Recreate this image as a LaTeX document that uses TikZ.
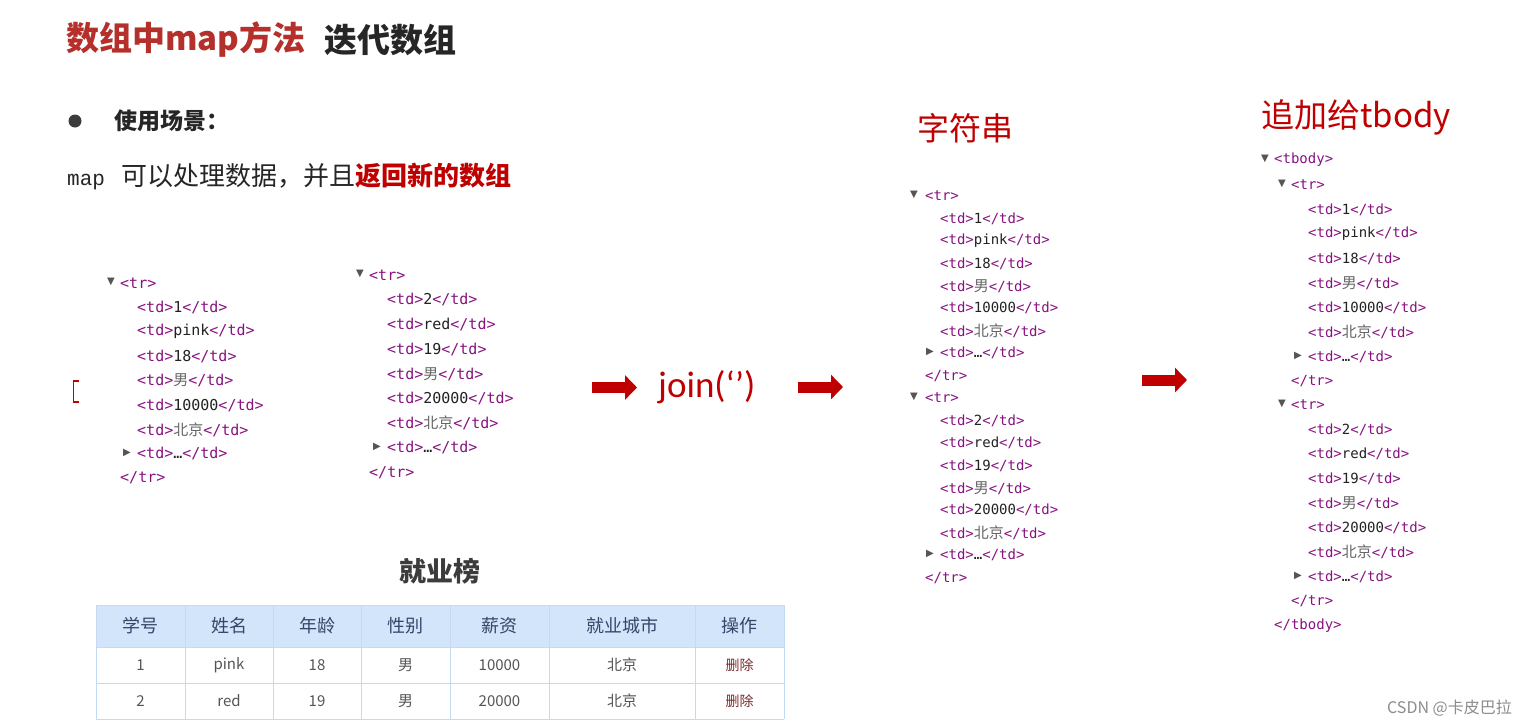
\documentclass[tikz,border=0pt]{standalone}
\usepackage{fontspec}
\usetikzlibrary{arrows.meta}
\newfontfamily\cjk{Noto Sans CJK SC}
\newfontfamily\codef{DejaVu Sans Mono}
\newfontfamily\symf{DejaVu Sans}
\newfontfamily\calf{Carlito}
\newfontfamily\monof{Liberation Mono}
\definecolor{tagc}{HTML}{881280}
\definecolor{txtc}{HTML}{222222}
\definecolor{zhc}{HTML}{666666}
\definecolor{redt}{HTML}{C00000}
\definecolor{titred}{HTML}{B5302A}
\definecolor{trig}{HTML}{555555}
\definecolor{hdrfill}{HTML}{D3E5FA}
\definecolor{gridc}{HTML}{C3DAF2}
\definecolor{hdrtxt}{HTML}{34466A}
\definecolor{bodytxt}{HTML}{555555}
\definecolor{delc}{HTML}{7B2B2B}
\definecolor{darkt}{HTML}{262626}
\newcommand\tagx[1]{\textcolor{tagc}{#1}}
\newcommand\tdx[1]{\tagx{<td>}#1\tagx{</td>}}
\newcommand\zhx[1]{{\cjk\color{zhc}\fontsize{15}{15}\selectfont #1}}
\tikzset{
  code/.style={anchor=west, inner sep=0pt, text=txtc, font=\codef\fontsize{15}{15}\selectfont},
  tri/.style={anchor=center, inner sep=0pt, text=trig, font=\symf\fontsize{10}{10}\selectfont},
  bigarrow/.style={draw=redt, line width=11pt, -{Triangle[length=12pt,width=24pt]}},
  thdr/.style={inner sep=0pt, text=hdrtxt, font=\cjk\fontsize{18}{18}\selectfont},
  tcell/.style={inner sep=0pt, text=bodytxt, font=\cjk\fontsize{15}{15}\selectfont},
  tdel/.style={inner sep=0pt, text=delc, font=\cjk\fontsize{14}{14}\selectfont},
  lbl/.style={anchor=west, inner sep=0pt, text=redt, font=\cjk\fontsize{32}{32}\selectfont}
}
% #1 name, #2 x of triangle, #3 x of <tr>, #4 x of td, #5 y of <tr>, #6 step, #7 values
\newcommand\trblock[7]{%
  \node[tri] (#1v) at (#2,#5-1) {▼};
  \node[code] (#1tr) at (#3,#5) {\tagx{<tr>}};
  \foreach \v [count=\i] in {#7} \node[code] (#1d\i) at (#4,#5+#6*\i) {\tdx{\v}};
  \node[tri] (#1p) at (#4-10,#5+7*#6-1) {▶};
  \node[code] (#1dots) at (#4,#5+7*#6) {\tdx{…}};
  \node[code] (#1end) at (#3,#5+8*#6) {\tagx{</tr>}};
}
\begin{document}
\begin{tikzpicture}[x=1pt,y=-1pt]
\useasboundingbox (0,0) rectangle (1527,726);
\fill[white] (0,0) rectangle (1527,726);

% title
\node[anchor=west, inner sep=0pt, font=\cjk\bfseries\fontsize{33}{33}\selectfont, text=titred] (title1) at (66,40) {数组中map方法};
\node[anchor=west, inner sep=0pt, font=\cjk\bfseries\fontsize{33}{33}\selectfont, text=darkt] (title2) at (324,40) {迭代数组};

% bullet
\node[circle, fill=darkt!90, inner sep=0pt, minimum size=13pt] (bul) at (75,121) {};
\node[anchor=west, inner sep=0pt, font=\cjk\bfseries\fontsize{23}{23}\selectfont, text=darkt] (use) at (114,121) {使用场景：};
\node[anchor=west, inner sep=0pt, font=\cjk\fontsize{26}{26}\selectfont, text=darkt] (desc) at (67,176)
  {{\monof\fontsize{21}{21}\selectfont map}\hspace{16pt}可以处理数据，并且{\bfseries\color{redt}返回新的数组}};

% red bracket
\draw[redt, line width=1.8pt] (78.5,381) -- (73.5,381) -- (73.5,402) -- (78.5,402);

% code blocks 1 and 2
\trblock{b1}{111}{120}{137}{283}{24.4}{1,pink,18,\zhx{男},10000,\zhx{北京}}
\trblock{b2}{360}{369}{387}{275}{24.7}{2,red,19,\zhx{男},20000,\zhx{北京}}

% arrows and join
\coordinate (a1s) at (592,387.5);
\coordinate (a1e) at (637,387.5);
\draw[bigarrow] (a1s) -- (a1e);
\node[anchor=west, inner sep=0pt, text=redt, font=\calf\fontsize{37}{37}\selectfont] (join) at (658,387) {join(‘’)};
\coordinate (a2s) at (798,387);
\coordinate (a2e) at (843,387);
\draw[bigarrow] (a2s) -- (a2e);

% string
\node[lbl] (str) at (917,128) {字符串};
\begin{scope}[code/.append style={font=\codef\fontsize{14}{14}\selectfont}]
\trblock{b3}{914}{925}{940}{196}{22.45}{1,pink,18,\zhx{男},10000,\zhx{北京}}
\trblock{b4}{914}{925}{940}{398}{22.45}{2,red,19,\zhx{男},20000,\zhx{北京}}
\end{scope}

\coordinate (a3s) at (1142,380);
\coordinate (a3e) at (1187,380);
\draw[bigarrow] (a3s) -- (a3e);

% tbody
\node[lbl, font=\cjk\fontsize{33}{33}\selectfont] (app) at (1261,117) {追加给tbody};
\begin{scope}[code/.append style={font=\codef\fontsize{14}{14}\selectfont}]
\node[tri] (tbv) at (1265,159) {▼};
\node[code] (tb) at (1274,160) {\tagx{<tbody>}};
\trblock{b5}{1282}{1291}{1308}{185}{24.5}{1,pink,18,\zhx{男},10000,\zhx{北京}}
\trblock{b6}{1282}{1291}{1308}{405}{24.5}{2,red,19,\zhx{男},20000,\zhx{北京}}
\node[code] (tbe) at (1274,626) {\tagx{</tbody>}};
\end{scope}

% table
\node[inner sep=0pt, font=\cjk\bfseries\fontsize{27}{27}\selectfont, text=darkt!90] (rank) at (440,571) {就业榜};
\fill[hdrfill] (96,605) rectangle (784,647);
\foreach \yy in {605,647,683,719} \draw[gridc, line width=1pt] (96,\yy) -- (784,\yy);
\foreach \xx in {96,185,273,361,450,549,695,784} \draw[gridc, line width=1pt] (\xx,605) -- (\xx,719);
\foreach \xx/\t [count=\i] in {140.5/学号, 229/姓名, 317/年龄, 405.5/性别, 499.5/薪资, 622/就业城市, 739.5/操作}
  \node[thdr] (h\i) at (\xx,626) {\t};
\foreach \xx/\a/\b [count=\i] in {140.5/1/2, 229/pink/red, 317/18/19, 405.5/男/男, 499.5/10000/20000, 622/北京/北京}
  {\node[tcell] (ra\i) at (\xx,665) {\a};
   \node[tcell] (rb\i) at (\xx,701) {\b};}
\node[tdel] (ra7) at (739.5,665) {删除};
\node[tdel] (rb7) at (739.5,701) {删除};

% watermark
\node[anchor=east, inner sep=0pt, text=black!45, font=\cjk\fontsize{16}{16}\selectfont] (wm) at (1512,708) {CSDN @卡皮巴拉};
\end{tikzpicture}
\end{document}
